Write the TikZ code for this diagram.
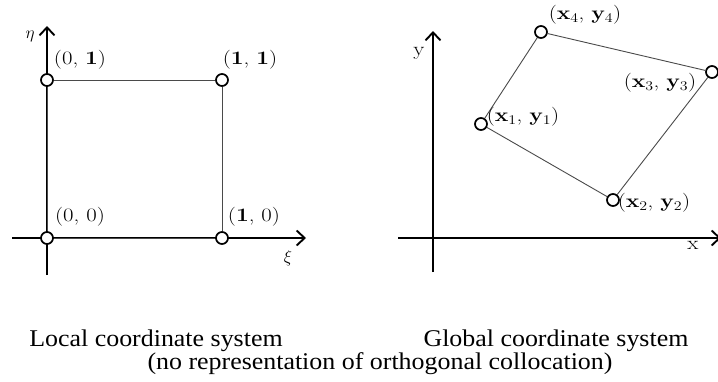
\documentclass[tikz,border=0pt]{standalone}
\usepackage{fontspec}
\usepackage{tikz}
\usetikzlibrary{arrows.meta,positioning}
\newfontfamily\lblfont[FakeStretch=1.2]{Latin Modern Roman}
\newfontfamily\captfont[FakeStretch=1.08]{Liberation Serif}
\definecolor{sideclr}{HTML}{4A4A4A}
\tikzset{
  vtx/.style={circle, draw, line width=1.7pt, fill=white, minimum size=12pt, inner sep=0pt},
  axisline/.style={-{Straight Barb[length=8pt,width=15pt]}, line width=1.9pt},
  quadside/.style={draw=sideclr, line width=0.9pt},
  lbl/.style={font=\lblfont\fontsize{19}{22}\selectfont, inner sep=0pt},
  axlbl/.style={font=\fontsize{17}{20}\selectfont, inner sep=0pt},
  capt/.style={font=\captfont\fontsize{24}{27}\selectfont, inner sep=0pt, anchor=base}
}

\begin{document}
\begin{tikzpicture}[x=1pt,y=-1pt]
  \useasboundingbox (0,0) rectangle (718,381);

  % local coordinate system
  \coordinate (xiL) at (12,238);
  \coordinate (xiR) at (306,238);
  \coordinate (etaB) at (47,275);
  \coordinate (etaT) at (47,26);
  \draw[axisline] (xiL) -- (xiR);
  \draw[axisline] (etaB) -- (etaT);
  \node[axlbl] (eta) at (30,36) {$\eta$};
  \node[axlbl] (xi) at (288,258) {$\xi$};

  \node[vtx] (n00) at (47,238) {};
  \node[vtx] (n10) at (222,238) {};
  \node[vtx] (n11) at (222,80) {};
  \node[vtx] (n01) at (47,80) {};
  \draw[quadside] (n00) -- (n10);
  \draw[quadside] (n10) -- (n11);
  \draw[quadside] (n11) -- (n01);
  \draw[quadside] (n01) -- (n00);

  \node[lbl] (l01) at (80,60) {(0, \textbf{1})};
  \node[lbl] (l11) at (250,60) {(\textbf{1}, \textbf{1})};
  \node[lbl] (l00) at (80,217) {(0, 0)};
  \node[lbl] (l10) at (254,217) {(\textbf{1}, 0)};

  % global coordinate system
  \coordinate (xL) at (398,238);
  \coordinate (xR) at (721,238);
  \coordinate (yB) at (433,272);
  \coordinate (yT) at (433,31);
  \draw[axisline] (xL) -- (xR);
  \draw[axisline] (yB) -- (yT);
  \node[lbl] (ylbl) at (419,53) {y};
  \node[lbl] (xlbl) at (693,245) {x};

  \node[vtx] (p1) at (481,124) {};
  \node[vtx] (p2) at (613,200) {};
  \node[vtx] (p3) at (712,72) {};
  \node[vtx] (p4) at (541,32) {};
  \draw[quadside] (p1) -- (p2);
  \draw[quadside] (p2) -- (p3);
  \draw[quadside] (p3) -- (p4);
  \draw[quadside] (p4) -- (p1);

  \node[lbl] (q4) at (585,15) {(\textbf{x}\textsubscript{4}, \textbf{y}\textsubscript{4})};
  \node[lbl] (q3) at (660,83) {(\textbf{x}\textsubscript{3}, \textbf{y}\textsubscript{3})};
  \node[lbl] (q1) at (523,117) {(\textbf{x}\textsubscript{1}, \textbf{y}\textsubscript{1})};
  \node[lbl] (q2) at (654,203) {(\textbf{x}\textsubscript{2}, \textbf{y}\textsubscript{2})};

  % captions
  \node[capt] (capL) at (156,346) {Local coordinate system};
  \node[capt] (capG) at (556,346) {Global coordinate system};
  \node[capt] (capN) at (380,369) {(no representation of orthogonal collocation)};
\end{tikzpicture}
\end{document}
